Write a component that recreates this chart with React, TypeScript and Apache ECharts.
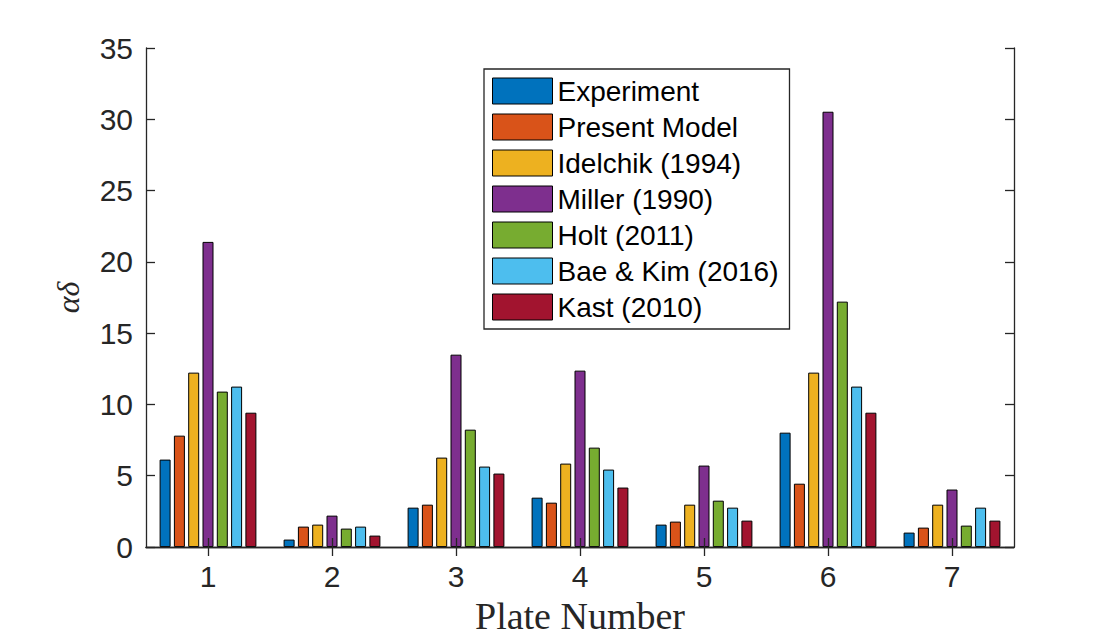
import React, { useEffect, useRef } from "react";
import * as echarts from "echarts";

const categories = ["1", "2", "3", "4", "5", "6", "7"];
const seriesNames = [
  "Experiment",
  "Present Model",
  "Idelchik (1994)",
  "Miller (1990)",
  "Holt (2011)",
  "Bae & Kim (2016)",
  "Kast (2010)",
];
const experiment = [6.13, 0.52, 2.76, 3.46, 1.57, 8.02, 1.01];
const presentModel = [7.81, 1.43, 2.97, 3.11, 1.78, 4.44, 1.36];
const idelchik = [12.23, 1.57, 6.27, 5.85, 2.97, 12.23, 2.97];
const miller = [21.4, 2.2, 13.49, 12.37, 5.71, 30.53, 4.03];
const holt = [10.9, 1.29, 8.23, 6.97, 3.25, 17.21, 1.5];
const baeKim = [11.25, 1.43, 5.64, 5.43, 2.76, 11.25, 2.76];
const kast = [9.42, 0.8, 5.15, 4.17, 1.85, 9.42, 1.85];
const yTicks = [0, 5, 10, 15, 20, 25, 30, 35];

const colors = ["#0072BD", "#D95319", "#EDB120", "#7E2F8E", "#77AC30", "#4DBEEE", "#A2142F"];
const allData = [experiment, presentModel, idelchik, miller, holt, baeKim, kast];

const AXIS = "#262626";
const SANS = "'Liberation Sans', Arial, Helvetica, sans-serif";
const SERIF = "'Liberation Serif', 'Times New Roman', serif";

export default function App() {
  const ref = useRef<HTMLDivElement>(null);
  useEffect(() => {
    if (!ref.current) return;
    const chart = echarts.init(ref.current, null, { renderer: "svg" });
    const axisLine = { show: true, lineStyle: { color: AXIS, width: 1.3 } };
    const tick = { show: true, inside: true, length: 9, lineStyle: { color: AXIS, width: 1.3 } };
    chart.setOption({
      animation: false,
      backgroundColor: "#ffffff",
      grid: { left: 146, top: 48, width: 868, height: 499, containLabel: false },
      legend: {
        orient: "vertical",
        left: 484,
        top: 69,
        data: seriesNames,
        icon: "rect",
        itemWidth: 60,
        itemHeight: 26,
        itemGap: 8,
        padding: [8, 11, 8, 8],
        backgroundColor: "#ffffff",
        borderColor: AXIS,
        borderWidth: 1.3,
        textStyle: { fontSize: 28, color: "#000", fontFamily: SANS },
        itemStyle: { borderColor: "#000", borderWidth: 1 },
      },
      xAxis: [
        {
          type: "category",
          data: categories,
          position: "bottom",
          z: 5,
          axisLine,
          axisTick: { ...tick, alignWithLabel: true },
          axisLabel: { fontSize: 30, color: AXIS, fontFamily: SANS, margin: 14 },
          splitLine: { show: false },
          name: "Plate Number",
          nameLocation: "middle",
          nameGap: 50,
          nameTextStyle: { fontSize: 38, color: AXIS, fontFamily: SERIF },
        },
        {
          type: "category",
          data: categories,
          position: "top",
          z: 5,
          axisLine,
          axisTick: { ...tick, alignWithLabel: true },
          axisLabel: { show: false },
          splitLine: { show: false },
        },
      ],
      yAxis: [
        {
          type: "value",
          min: yTicks[0],
          max: yTicks[yTicks.length - 1],
          interval: 5,
          position: "left",
          z: 5,
          axisLine,
          axisTick: tick,
          axisLabel: { fontSize: 30, color: AXIS, fontFamily: SANS, margin: 13 },
          splitLine: { show: false },
          name: "αδ",
          nameLocation: "middle",
          nameGap: 62,
          nameRotate: 90,
          nameTextStyle: { fontSize: 32, color: AXIS, fontFamily: SERIF, fontStyle: "italic" },
        },
        {
          type: "value",
          min: yTicks[0],
          max: yTicks[yTicks.length - 1],
          interval: 5,
          position: "right",
          z: 5,
          axisLine,
          axisTick: tick,
          axisLabel: { show: false },
          splitLine: { show: false },
        },
      ],
      series: seriesNames.map((name, i) => ({
        name,
        type: "bar",
        xAxisIndex: 0,
        yAxisIndex: 0,
        data: allData[i],
        barWidth: 11,
        barGap: "30%",
        itemStyle: { color: colors[i], borderColor: "#000", borderWidth: 1 },
      })),
    });
    return () => chart.dispose();
  }, []);
  return (
    <div
      ref={ref}
      style={{ position: "fixed", left: 0, top: 0, width: 1120, height: 640, background: "#fff" }}
    />
  );
}
